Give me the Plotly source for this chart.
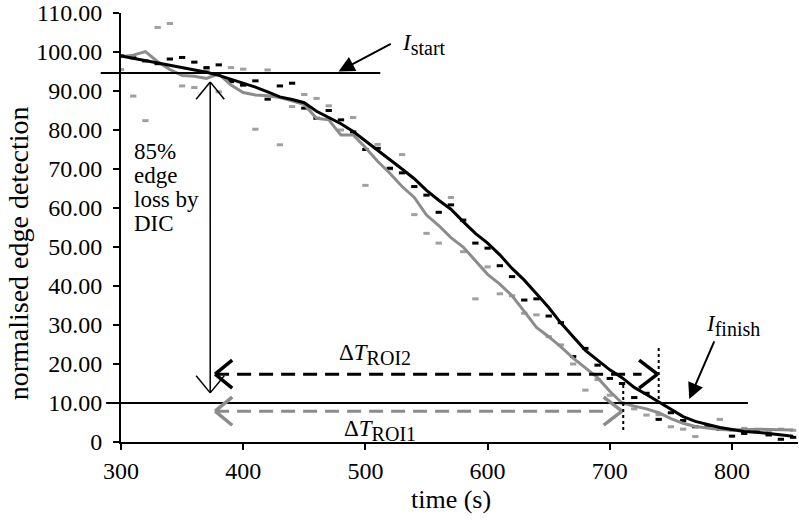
import plotly.graph_objects as go

# time axis (s), one sample every 10 s
time_s = list(range(300, 860, 10))

# raw edge-detection samples (dash markers)
roi2_raw = [99.0, 98.5, 97.7, 97.0, 98.2, 98.6, 97.4, 96.0, 96.7, 92.4,
            91.5, 92.6, 87.9, 91.3, 92.0, 85.6, 83.0, 85.0, 82.6, 79.5,
            75.0, 75.3, 70.2, 69.0, 65.5, 63.3, 58.9, 60.8, 56.9, 51.0,
            49.7, 45.2, 42.4, 36.4, 36.7, 32.3, 30.6, 21.9, 24.0, 19.7,
            16.3, 15.0, 11.4, 12.5, 5.8, 7.5, 5.5, 3.9, 3.9, 3.2,
            1.5, 2.2, 2.6, 1.8, 0.7, 1.2]
roi1_raw = [95.5, 88.7, 82.4, 106.3, 107.3, 91.3, 90.9, 95.4, 89.8, 96.0,
            95.6, 80.2, 95.4, 76.2, 86.0, 89.1, 88.1, 86.2, 80.0, 83.2,
            65.8, 76.3, 70.0, 73.7, 58.3, 53.5, 51.0, 62.7, 48.8, 36.7,
            44.9, 38.0, 37.5, 33.0, 32.6, 27.0, 24.9, 20.0, 13.3, 16.0,
            12.0, 10.0, 8.5, 6.9, 7.0, 3.9, 3.3, 1.4, 4.0, 5.8,
            3.0, 3.5, 3.0, 2.5, 3.3, 3.0]

# smoothed curves
roi2_smooth = [99.0, 98.4, 97.8, 97.2, 96.6, 96.0, 95.4, 94.8, 94.0, 93.0,
               92.2, 91.0, 89.8, 88.5, 87.8, 87.0, 84.8, 83.3, 81.6, 79.6,
               77.2, 75.0, 72.5, 70.0, 67.5, 64.5, 62.0, 59.7, 56.5, 53.5,
               51.0, 48.0, 44.5, 41.5, 38.0, 34.5, 30.5, 27.0, 23.5, 21.0,
               18.5, 16.5, 14.0, 12.2, 10.3, 8.3, 6.5, 5.3, 4.5, 3.7,
               3.2, 2.7, 2.5, 2.2, 1.8, 1.5]
roi1_smooth = [98.8, 99.2, 100.1, 97.5, 95.5, 94.0, 93.8, 93.2, 94.4, 91.5,
               89.6, 89.0, 88.8, 88.3, 87.5, 86.5, 83.0, 82.6, 78.7, 78.7,
               75.5, 72.0, 68.9, 65.5, 62.7, 58.2, 55.5, 52.4, 50.0, 46.5,
               43.0, 40.5, 37.5, 33.5, 29.4, 27.0, 24.4, 21.5, 19.0, 16.5,
               13.0, 10.0, 9.2, 8.5, 7.5, 6.0, 4.8, 4.0, 3.6, 3.2,
               3.1, 3.2, 3.3, 3.2, 3.1, 3.1]

y_ticks = [0, 10, 20, 30, 40, 50, 60, 70, 80, 90, 100, 110]
y_ticktext = ["0", "10.00", "20.00", "30.00", "40.00", "50.00", "60.00",
              "70.00", "80.00", "90.00", "100.00", "110.00"]
x_ticks = [300, 400, 500, 600, 700, 800]

# annotation levels
i_start = 94.6
i_finish = 10.0
t_start = 373
t_end_roi1 = 711
t_end_roi2 = 740
arrow_top = 92.3
arrow_bottom = 12.6
dt_roi2_level = 17.4
dt_roi1_level = 7.9

BLACK = "black"
GREY = "rgb(140,140,140)"
GREY_PTS = "rgb(160,160,160)"
FONT = "Liberation Serif"
SUB = '<sub><span style="font-size:20px">{}</span></sub>'

fig = go.Figure()
fig.add_trace(go.Scatter(x=time_s, y=roi1_raw, mode="markers",
                         marker=dict(symbol="line-ew", size=4.5, line=dict(width=3, color=GREY_PTS))))
fig.add_trace(go.Scatter(x=time_s, y=roi2_raw, mode="markers",
                         marker=dict(symbol="line-ew", size=4.5, line=dict(width=3, color=BLACK))))
fig.add_trace(go.Scatter(x=time_s, y=roi1_smooth, mode="lines", line=dict(color=GREY, width=3)))
fig.add_trace(go.Scatter(x=time_s, y=roi2_smooth, mode="lines", line=dict(color=BLACK, width=3)))

shapes = []


def seg(x0, y0, x1, y1, color=BLACK, width=1.5, dash="solid", xref="x"):
    shapes.append(dict(type="line", xref=xref, yref="y", x0=x0, y0=y0, x1=x1, y1=y1,
                       line=dict(color=color, width=width, dash=dash), layer="above"))


# I_start / I_finish levels
seg(-0.03, i_start, 0.383, i_start, width=2, xref="paper")
seg(-0.022, i_finish, 0.926, i_finish, width=2, xref="paper")

# vertical double arrow (85% loss)
seg(t_start, arrow_top, t_start, arrow_bottom, width=1.5)
for tip, sgn in ((arrow_top, -1), (arrow_bottom, 1)):
    seg(t_start, tip, t_start - 11.5, tip + sgn * 4.4, width=1.5)
    seg(t_start, tip, t_start + 11.5, tip + sgn * 4.4, width=1.5)

# delta T arrows
x_left = t_start + 4
seg(x_left, dt_roi2_level, t_end_roi2 - 14, dt_roi2_level, width=3, dash="14px,8px")
seg(x_left, dt_roi1_level, t_end_roi1 - 14, dt_roi1_level, color=GREY, width=3, dash="14px,8px")
for lvl, col, x_tip in ((dt_roi2_level, BLACK, t_end_roi2 - 1), (dt_roi1_level, GREY, t_end_roi1 - 1)):
    seg(x_left, lvl, x_left + 14, lvl + 3.6, color=col, width=3.5)
    seg(x_left, lvl, x_left + 14, lvl - 3.6, color=col, width=3.5)
    seg(x_tip, lvl, x_tip - 15, lvl + 3.6, color=col, width=3.5)
    seg(x_tip, lvl, x_tip - 15, lvl - 3.6, color=col, width=3.5)

# dotted crossing markers
seg(t_end_roi1, 14.6, t_end_roi1, 2.6, width=2, dash="dot")
seg(t_end_roi2, 24.1, t_end_roi2, 10.3, width=2, dash="dot")

annotations = [
    dict(x=478, y=95.0, ax=522, ay=102.3, xref="x", yref="y", axref="x", ayref="y",
         text="", showarrow=True, arrowhead=2, arrowsize=1.6, arrowwidth=2, arrowcolor=BLACK),
    dict(x=765, y=11.0, ax=786, ay=26.2, xref="x", yref="y", axref="x", ayref="y",
         text="", showarrow=True, arrowhead=2, arrowsize=1.6, arrowwidth=2, arrowcolor=BLACK),
    dict(x=528, y=102.0, xref="x", yref="y", xanchor="left", yanchor="middle", showarrow=False,
         text="<i>I</i>" + SUB.format("start")),
    dict(x=777, y=30.0, xref="x", yref="y", xanchor="left", yanchor="middle", showarrow=False,
         text="<i>I</i>" + SUB.format("finish")),
    dict(x=477, y=22.5, xref="x", yref="y", xanchor="left", yanchor="middle", showarrow=False,
         text="Δ<i>T</i>" + SUB.format("ROI2")),
    dict(x=481, y=3.0, xref="x", yref="y", xanchor="left", yanchor="middle", showarrow=False,
         text="Δ<i>T</i>" + SUB.format("ROI1")),
]
for i, line in enumerate(["85%", "edge", "loss by", "DIC"]):
    annotations.append(dict(x=309, y=74.6 - i * 6.15, xref="x", yref="y", xanchor="left",
                            yanchor="middle", showarrow=False, text=line))
for a in annotations:
    a["font"] = dict(family=FONT, size=23, color=BLACK)

# axis titles placed as annotations (the y title sits below the plot centre)
annotations.append(dict(x=-0.152, y=0.44, xref="paper", yref="paper", textangle=-90,
                        xanchor="center", yanchor="middle", showarrow=False,
                        text="normalised edge detection",
                        font=dict(family=FONT, size=28, color=BLACK)))
annotations.append(dict(x=0.487, y=-0.135, xref="paper", yref="paper",
                        xanchor="center", yanchor="middle", showarrow=False,
                        text="time (s)", font=dict(family=FONT, size=26, color=BLACK)))

fig.update_layout(
    width=799, height=521,
    margin=dict(l=121, r=1, t=13, b=79),
    paper_bgcolor="white", plot_bgcolor="white",
    showlegend=False,
    font=dict(family=FONT, size=24, color=BLACK),
    shapes=shapes,
    annotations=annotations,
    xaxis=dict(range=[300, 854], tickvals=x_ticks, showgrid=False, zeroline=False,
               showline=True, linecolor=BLACK, linewidth=2, ticks="outside", ticklen=6,
               tickwidth=2, tickcolor=BLACK, automargin=False, tickfont=dict(size=24)),
    yaxis=dict(range=[0, 110], tickvals=y_ticks, ticktext=y_ticktext, showgrid=False,
               zeroline=False, showline=True, linecolor=BLACK, linewidth=2, ticks="outside",
               ticklen=6, tickwidth=2, tickcolor=BLACK, automargin=False,
               tickfont=dict(size=24), ticklabelstandoff=6),
)

# drop the default body margin so the figure fills the window exactly
fig.write_html("out.html", config={"displayModeBar": False},
               post_script="document.body.style.margin='0';")
